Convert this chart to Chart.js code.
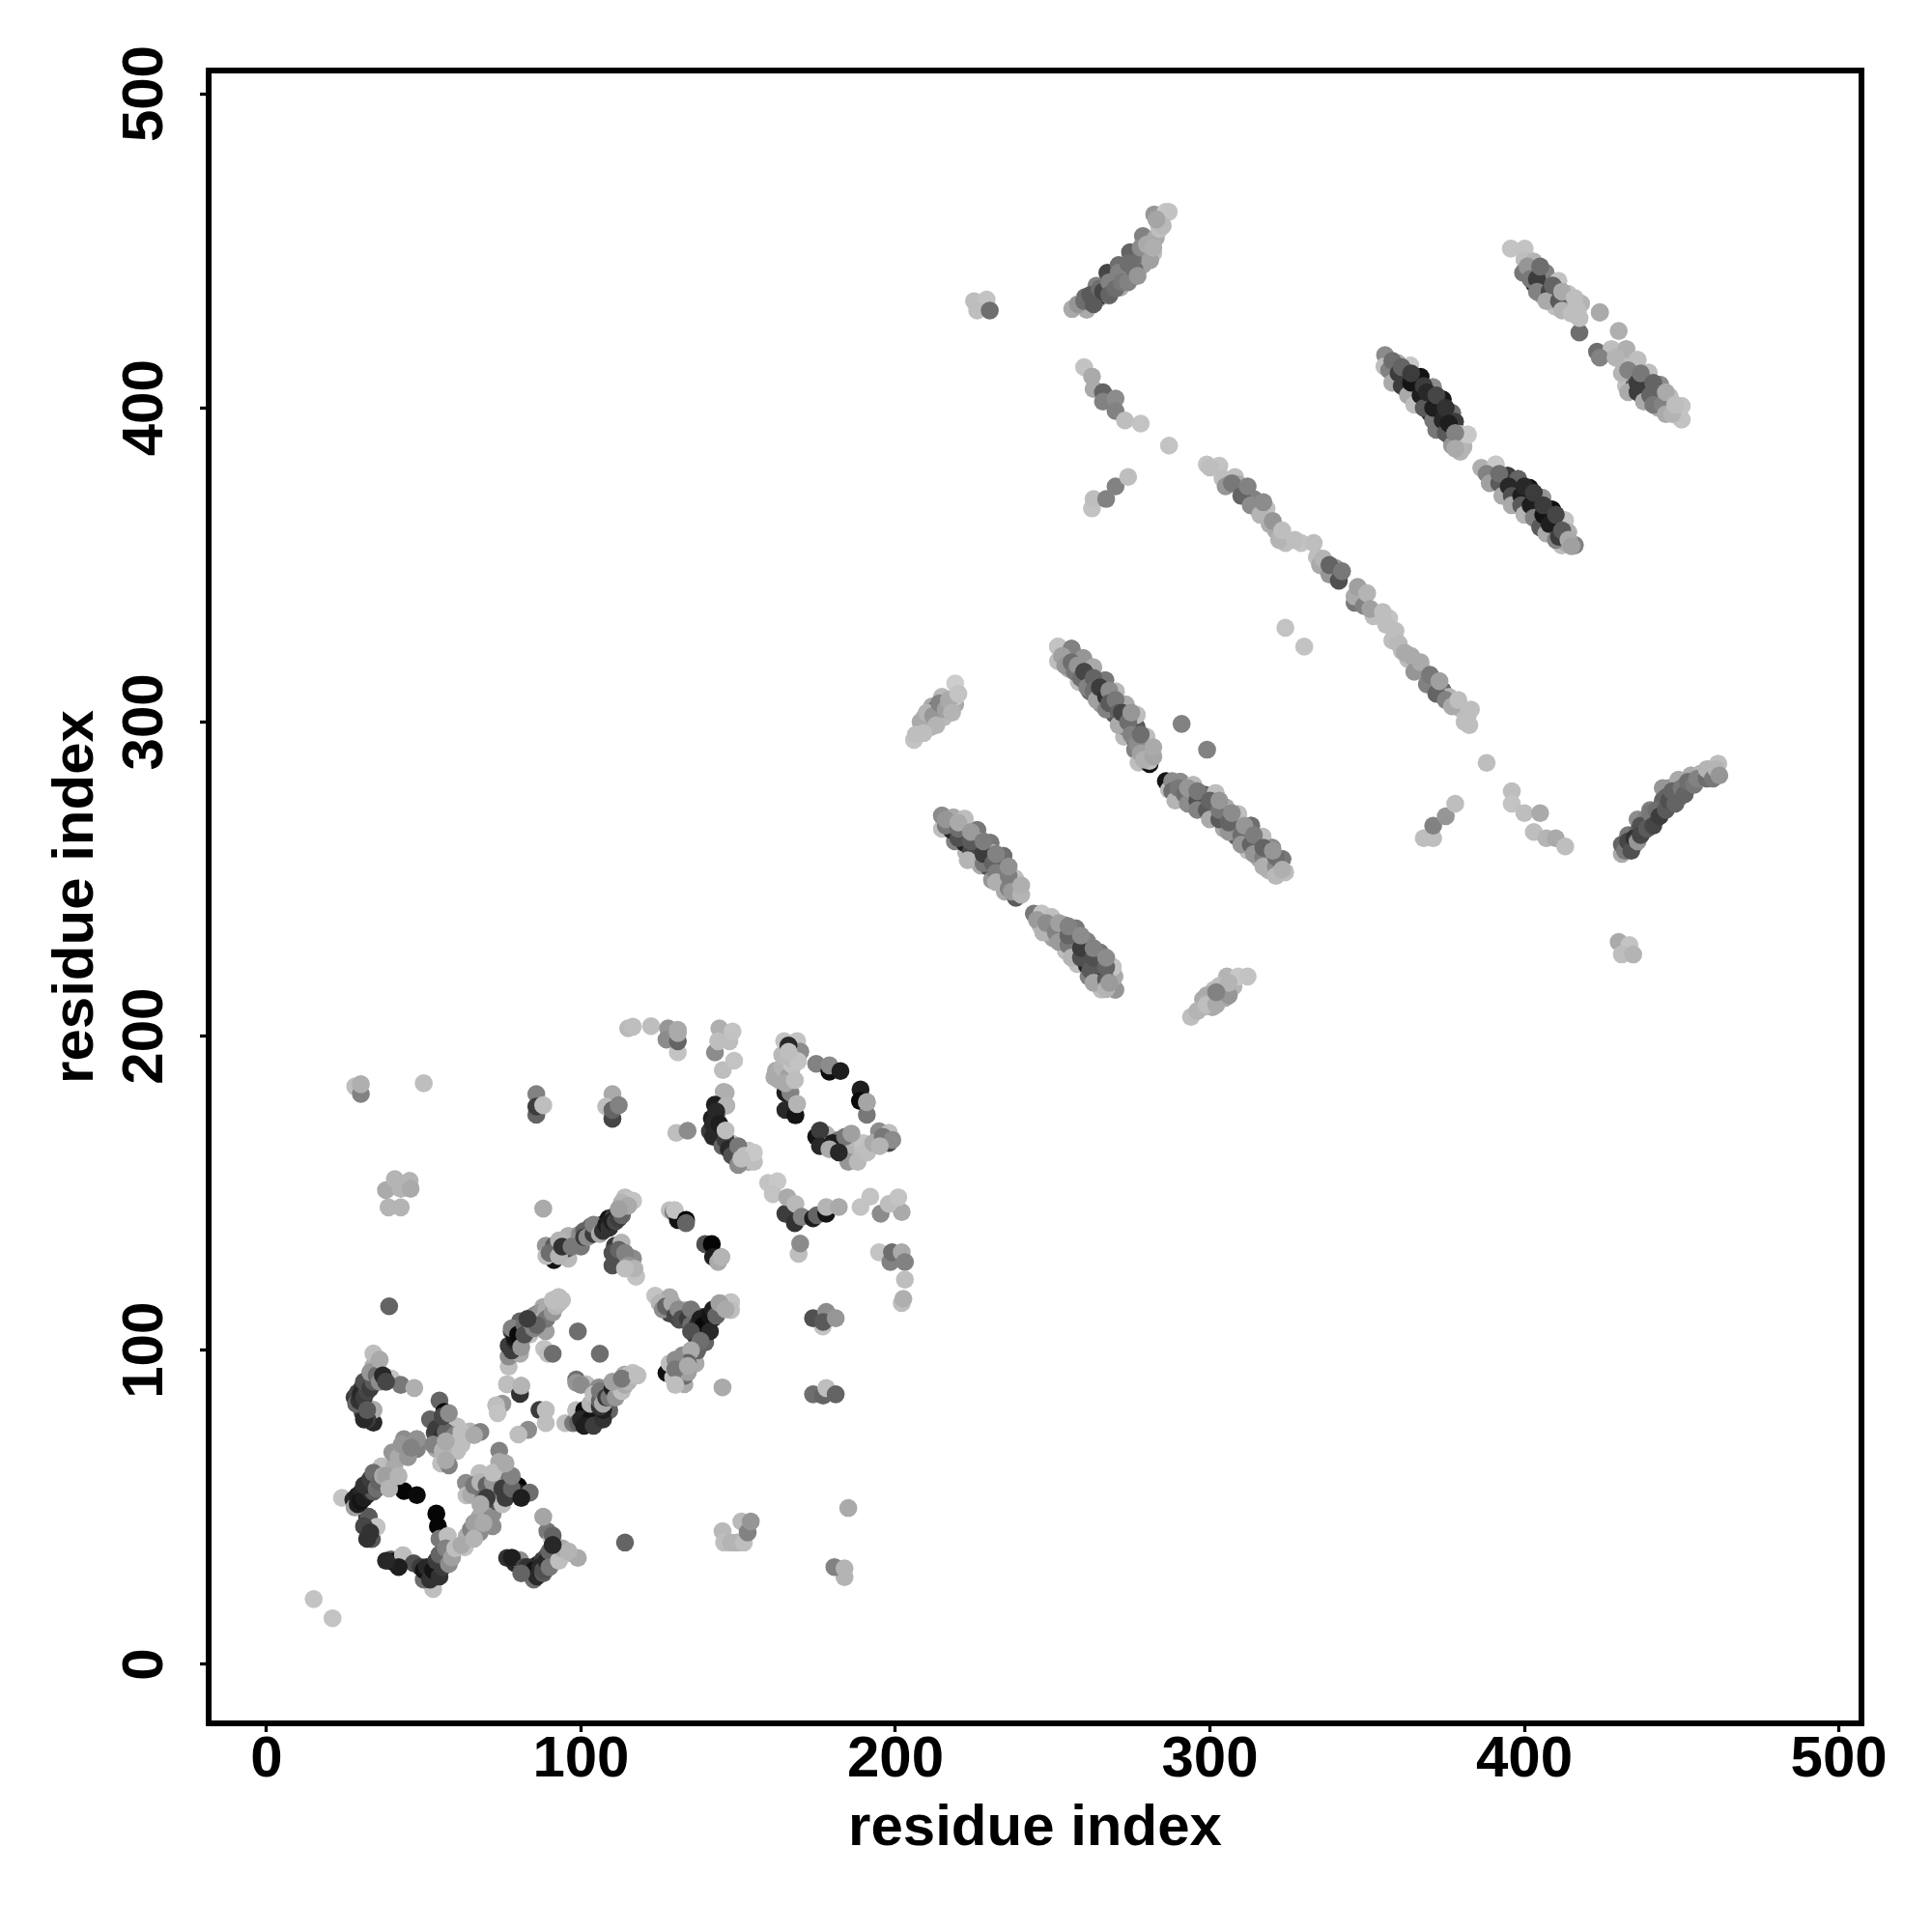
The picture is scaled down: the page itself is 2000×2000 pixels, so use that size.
<!DOCTYPE html>
<html lang="en">
<head>
    <meta charset="UTF-8">
    <title>residue contact map</title>
    <script src="https://cdn.jsdelivr.net/npm/chart.js"></script>
    <style>
        body { margin: 0; background: #fff; }
    </style>
</head>
<body>
    <canvas id="myChart" width="2000" height="2000"></canvas>
    <script>
        // every contact is [residue x, residue y, grey level]
        // back* rows get drawn first, then the plain ones, front* rows last
        const backLowA = [[28.5,83,100],[29.5,84,50],[30,86,40],[31,85,60],[32,87,70],[31,90,80],[33,88,60],[34,90,90],[33,93,150],[35,92,110],[36,90,140],[36,97,170],[37,92,40],[38,90,70],[32,78,60],[31,78,40],[32,81,90]];
        const backLowB = [[28,50,160],[29,51,30],[30,52,20],[31,53,30],[32,54,30],[33,55,40],[34,55,90],[31,57,50],[33,59,60],[34,61,110],[35,56,110],[36,58,100],[37,60,170],[38,60,160],[39,56,180],[42,66,170],[43,70,150],[45,66,150],[46,69,130],[42,60,180],[31,44,70],[32,40,50],[33,42,50]];
        const backLowC = [[49,31,60],[50,27,110],[50,30,20],[51,31,40],[52,27,50],[53,30,20],[54,33,60],[55,28,50],[56,31,60],[55,35,100],[57,37,130],[58,32,140],[59,34,160],[60,37,190],[62,38,170],[65,43,130],[66,45,160],[66,40,180],[69,45,170],[42,31,30],[38,33,40]];
        const backLowD = [[52,78,100],[54,75,60],[56,73,50],[57,74,100],[59,72,120],[60,73,130],[53,70,130],[56,68,180],[61,71,190],[62,70,190],[57,65,170],[62,74,190],[56,79,70],[58,80,140],[57,71,170],[66,73,170]];
        const backLowE = [[65,54,170],[66,57,120],[68,58,180],[69,53,110],[70,57,100],[71,52,150],[72,58,150],[73,52,80],[74,53,130],[75,56,60],[75,51,190],[76,53,60],[78,56,100],[78,60,130],[72,61,190],[70,53,60],[68,51,170],[81,53,30],[76,64,170]];
        const backLowF = [[78,34,30],[82,31,70],[83,29,60],[83,31,50],[85,27,110],[85,30,20],[86,28,40],[87,31,40],[88,29,90],[88,30,80],[89,33,40],[90,36,100],[90,31,120],[91,41,100],[93,33,190],[94,37,170],[96,36,180],[91,38,40],[81,29,100]];
        const backMidB = [[142,172,40],[143,176,40],[142,168,40],[143,170,40],[144,172,30],[145,165,100],[146,167,60],[147,164,40],[148,162,80],[150,165,120],[150,159,140],[152,162,190],[146,170,190],[155,160,190],[155,163,200],[151,161,190]];
        const backMidC = [[162,189,170],[163,186,170],[164,190,180],[166,187,160],[167,191,195],[165,185,170],[168,186,190],[167,193,185],[169,192,195],[164,194,185],[166,197,40],[166,195,190]];
        const backMidD = [[176,170,60],[176,165,40],[180,166,30],[179,164,170],[184,163,180],[184,168,120],[186,169,160],[185,160,150],[188,160,185],[191,163,190],[193,166,170],[196,168,120],[199,167,140],[195,165,180],[182,163,40]];
        const backMidG = [[89,130,190],[90,131,110],[93,130,180],[93,135,180],[94,133,50],[97,133,120],[100,133,120],[101,138,100],[101,136,60],[102,136,140],[104,137,60],[104,140,130],[106,137,170],[107,138,50],[108,140,30],[109,139,50],[110,141,30],[111,141,70],[112,142,60],[113,143,100],[113,147,180],[115,146,170],[112,145,160]];
        const backMidH = [[110,131,80],[110,127,80],[112,132,100],[114,131,130],[115,127,150],[117,126,180],[114,126,190]];
        const backMidI = [[125,115,180],[126,113,140],[127,114,100],[129,115,170],[130,111,70],[131,113,140],[132,110,80],[134,110,60],[135,113,120],[135,108,110],[137,108,50],[138,110,30],[138,106,30],[139,108,10],[141,111,20],[141,106,40],[142,113,30],[143,111,100],[144,115,160],[146,113,170],[135,106,80],[137,102,60],[137,100,100],[138,103,110],[135,100,170],[134,96,100],[134,93,160],[130,97,140],[130,94,120],[130,89,190],[134,95,170]];
        const backMidJ = [[78,100,60],[79,103,40],[79,104,20],[78,107,130],[80,105,10],[81,101,150],[82,108,110],[82,105,80],[84,109,170],[85,107,130],[85,111,140],[87,112,150],[88,110,170],[89,113,170],[89,110,120],[91,112,150],[92,114,180],[93,115,185],[94,116,190],[91,116,190],[86,108,100],[83,110,60]];
        const backMidK = [[100,89,140],[104,86,190],[106,84,100],[106,87,120],[107,83,170],[108,85,60],[109,85,120],[110,88,30],[111,85,150],[112,90,60],[112,88,160],[113,87,190],[114,89,170],[115,90,180],[115,92,190],[110,90,160],[113,91,120],[118,92,190]];
        const backMidL = [[99,77,100],[100,78,40],[103,78,20],[101,76,30],[104,76,60],[107,78,50],[107,81,30],[103,83,180],[105,84,170],[106,82,50]];
        const backUpA = [[208,300,170],[210,303,180],[212,302,150],[213,299,180],[214,306,130],[216,304,160],[217,307,170],[218,303,180],[220,309,195],[206.5,296,190],[209,296.5,190]];
        const backUpB = [[253,321,160],[254,318,150],[256,319,110],[257,316,120],[258,318,150],[259,314,110],[260,316,70],[261,311,130],[263,314,100],[263,310,110],[264,307,160],[265,311,60],[267,308,50],[267,304,130],[268,310,140],[268,306,90],[270,307,120],[271,303,100],[271,299,170],[272,303,70],[274,300,110],[275,296,130],[275,303,150],[277,293,140],[278,290,160],[278,296,110],[279,288,175],[282,289,165],[282,292,170]];
        const backUpC = [[288,278,110],[289,275,180],[290,279,120],[292,277,110],[293,274,140],[293,279,150],[296,275,80],[296,272,130],[296,278,120],[299,272,90],[300,275,100],[300,269,170],[303,269,90],[303,272,120],[303,275,150],[306,265,150],[306,268,100],[307,271,140],[310,264,110],[310,261,150],[311,267,150],[313,261,100],[314,258,150],[314,264,125],[317,257,125],[317,260,100],[317,254,175],[321,254,140],[321,257,110],[321,251,185],[320,259,150],[323,253,175]];
        const backUpD = [[216,267,120],[216,269,150],[220,263,80],[220,266,110],[220,268,170],[224,259,70],[224,262,90],[224,265,155],[223,256,180],[228,255,120],[228,258,60],[228,262,125],[231,255,100],[232,252,125],[232,258,130],[232,249,175],[236,247,130],[236,251,125],[236,254,145],[237,246,155],[240,245,180],[240,248,175]];
        const backUpE = [[245,237,155],[247,233,180],[248,236,140],[251,233,130],[252,230,155],[252,236,160],[255,229,120],[255,232,100],[255,235,130],[256,225,180],[259,225,80],[259,228,60],[259,232,140],[262,221,90],[263,225,80],[263,228,130],[263,217,165],[267,218,90],[267,222,100],[267,225,140],[267,215,180],[268,217,155]];
        const backUpF = [[296,208,180],[299,213,170],[299,210,190],[302,210,170],[303,216,190],[306,213,150],[306,217,180],[302,214,130]];
        const backUpG = [[258,433,150],[260,434,110],[262,436,90],[263,433,90],[265,438,110],[266,437,70],[268,440,130],[268,436,100],[270,438,110],[271,443,130],[272,440,120],[274,446,110],[274,440,130],[276,444,110],[278,451,140],[277,442,150],[280,452,170],[281,447,160],[282,451,175],[284,457,190],[285,458,185],[283,460,165]];
        const backUpI = [[300,381,190],[305,375,150],[307,376,120],[310,372,100],[312,375,130],[313,369,140],[316,366,180],[317,370,140],[320,364,150],[322,358,180],[323,361,190],[327,358,190],[335,350,170],[336,352,180],[338,347,150],[338,350,100],[341,345,80],[342,348,120],[347,343,160],[349,337,130],[350,341,180],[351,336,160],[355,335,190],[356,331,190],[359,329,190],[360,325,185],[362,322,170],[364,321,170],[365,316,150],[367,319,170],[369,312,130],[370,315,120],[372,309,100],[373,313,160],[375,307,130],[377,305,170],[379,307,190],[381,300,190],[383,304,190]];
        const backUpK = [[432,259,120],[433,262,70],[434,259,80],[435,263,50],[436,262,150],[437,267,80],[437,264,70],[439,266,90],[440,271,120],[441,267,70],[442,272,110],[443,270,60],[445,276,100],[445,272,90],[446,275,80],[447,278,100],[448,274,100],[450,279,120],[451,277,100],[452,281,110],[454,280,120],[455,282,130],[458,282,110],[458,285,180],[460,282,120],[461,285,180],[462,283,150]];
        const backUpL = [[357,412,130],[358,415,110],[358,408,170],[360,411,60],[361,407,60],[361,413,100],[363,404,170],[364,408,20],[364,411,60],[365,401,190],[367,404,30],[368,407,60],[368,400,90],[369,405,40],[371,396,120],[371,400,30],[372,404,70],[372,393,120],[374,396,40],[375,400,50],[375,392,90],[376,395,30],[377,388,150],[378,392,130],[378,387,170]];
        const backUpM = [[388,379,130],[389,376,160],[392,376,90],[392,379,110],[393,372,170],[395,375,40],[396,372,80],[396,369,170],[399,372,30],[400,375,40],[399,369,90],[400,366,180],[402,369,30],[403,373,60],[403,365,130],[405,362,90],[406,366,20],[406,369,60],[407,360,170],[408,363,30],[410,358,130],[410,366,70],[411,359,60],[412,361,90],[414,358,170],[415,356,160]];
        const backUpN = [[401,445,150],[402,441,120],[404,441,60],[405,445,110],[404,437,130],[408,437,70],[407,434,170],[409,439,100],[411,434,90],[412,431,180],[412,437,170],[415,430,190],[416,435,190],[417,431,190]];
        const backUpO = [[424,416,130],[429,416,180],[431,411,180],[433,412,130],[433,405,170],[436,408,60],[436,405,60],[437,411,120],[438,402,170],[440,404,100],[441,408,100],[441,401,120],[444,401,130],[445,405,170],[445,398,170],[447,398,180],[448,401,190]];

        const lowA = [[15,20.8,195],[21,14.7,195],[39,114,100],[34,99,190],[35,95,175],[28,85,60],[29,86.5,70],[30.4,88,50],[31.5,89.6,80],[33,91,100],[39.6,91,195],[42.7,89,120],[47,88,175],[30.6,80,60],[34,77,40],[34,81,170]];
        const lowB = [[24,53,195],[27.6,52.4,40],[28.9,53.7,30],[30.4,55.2,40],[32,56.3,60],[33.5,57.3,90],[35,58.8,170],[36.6,63,190],[40.7,57.3,185],[40.7,63.4,170],[40,67.5,150],[47.8,68.6,130],[44.2,68,170],[43.7,71.7,140],[47.8,71.7,145],[43.7,55.2,5],[47.8,53.9,10],[32,47,50],[32.5,47,90],[32.5,43,20],[33.5,39.9,90],[35,43.8,195]];
        const lowC = [[39.6,33.4,100],[40,32.7,20],[43.4,34.7,190],[46.8,32.2,80],[53,24,190],[51,28,195],[52,29.6,30],[53,28.6,70],[54,31.1,40],[55.5,32.7,70],[57,34.2,120],[54,48,5],[54.5,44,5],[55,40,120],[57.6,40.9,190],[59,36.3,180],[63,37.3,195],[63.7,40.9,175],[67.8,42,140],[67.8,47,170],[71.9,44,140],[71.9,48,140]];
        const lowD = [[55,84,100],[56.5,80.4,10],[53.5,73.7,70],[55,71.7,60],[58,76.8,100],[60.6,75.7,190],[64.7,74.2,180],[68,74,130],[54,68.6,170],[58,69,190],[60.6,68,190],[55.5,64,190],[58,63.4,130]];
        const lowE = [[74,68,130],[74,64.5,170],[67.8,60.9,190],[63.4,57.8,140],[63.6,53.8,190],[67.8,56.3,195],[67.8,53.2,185],[70.9,55.2,80],[72.4,54.2,60],[73,53.7,150],[74,56.3,100],[75,60.4,190],[77,58.8,120],[80,56.8,5],[80,54.7,30],[83.7,54.7,110]];
        const lowF = [[76.5,33.9,50],[79,32.2,40],[80.6,33.2,140],[84,29.6,50],[85,28.6,80],[86.2,31.7,30],[87.8,33.2,60],[89.3,34.7,80],[89.3,42.4,120],[88,47,165],[90.8,39.9,195],[91.9,36.8,170],[95,35.2,180],[99,33.9,170],[114,38.8,100]];
        const lowG = [[145,42.4,185],[145.5,38.8,190],[147.7,38.8,180],[149.7,38.8,180],[151.8,38.8,190],[151,45.5,185],[153,42,130],[154,45.5,150],[183.8,27.8,180],[180.6,31,130],[183.8,30.6,180],[185,49.8,170]];

        const midA = [[115,202.5,185],[116.5,203,190],[122.3,203.2,190],[127.7,202.5,150],[127.2,198.9,140],[130.8,202,170],[130.8,194.8,195],[130.8,198.4,100],[130.8,201,170],[144,202.5,175],[142.6,194.8,140],[143.6,198.4,190],[147.2,198.4,190],[148.2,201.5,195],[145.1,189.2,190],[148.7,192.2,195]];
        const midB = [[145.4,182.3,175],[142.6,178.2,30],[146.2,177.9,180],[143,174.8,90],[141.6,173.8,30],[141,169.7,60],[144,167.5,60],[144.6,169.2,190],[130.3,169.2,190],[133.9,169.9,140],[147.7,166,190],[149.2,162.5,195],[153.3,160,170],[153.3,163.5,195]];
        const midC = [[161.5,187,170],[165,188,190],[167,189.7,190],[165,182,30],[166.6,182,130],[165,176.5,40],[168.2,174.8,20],[168.7,178.4,180],[164.6,198.4,195],[168.7,198.4,195],[169.7,195.1,140],[165.5,192,190],[174.8,191.2,130],[179,188.7,15],[179,190.7,140],[182.5,188.9,30],[188.9,183,30],[188.7,179.4,10],[190.9,175,120],[190.9,179,165]];
        const midD = [[174.8,168,20],[178.4,167,20],[178,168.7,180],[181.5,164.6,40],[182,167,120],[186.6,162,170],[187,165,185],[189.7,166,195],[192,165,190],[189,162.5,190],[194.8,169.7,140],[197.9,166,70],[197.9,169.2,190]];
        const midE = [[159.5,153.3,195],[162.5,153.8,200],[161,149.7,195],[165,143.5,60],[165.6,148.7,170],[168,140.5,50],[168.2,146.6,185],[170.2,142.5,130],[173.8,142,30],[175,143,100],[178,143.5,20],[178,145.6,180],[182,145.6,170],[188.9,145.6,195],[192,148.9,195],[195.3,143.5,140],[202,144,170],[197.9,146.6,190],[200.9,148.7,195]];
        const midF = [[169.2,130.7,190],[169.7,134,140],[194.8,131.2,195],[198.4,128.1,130],[198.9,131.2,110],[202,131.2,170],[203,128.1,130],[203,122.5,190],[202,115,190],[202.5,116.4,175],[176.9,107.6,195],[173.8,110.2,80],[178,112.2,140],[177,109,90],[181,110.2,150],[173.8,86,110],[177,85.6,100],[178,88,190],[181,86,100],[145,88.2,170]];
        const midG = [[88,145.1,170],[88.8,133.3,150],[91.4,128.7,20],[91.4,133.3,90],[93,132,100],[96,129.2,185],[95.5,132.3,80],[96,136.4,175],[98.5,133.8,150],[99.6,136.9,140],[103.1,139.4,110],[105.7,139.4,20],[106.7,140,60],[108.8,142,20],[110.3,142.5,60],[111.8,143.5,40],[112.9,144.6,140],[114,148.7,190],[115,147.6,195],[116.5,147.6,195]];
        const midH = [[110.8,133.3,60],[111.9,129.2,90],[112.9,134.3,180],[113.9,129.2,170],[116.5,129.2,140],[117.5,123.5,195],[128.2,144.6,190],[129.4,144,120],[130.8,141.5,20],[129.8,144.6,195],[133.4,141.5,3],[133.4,140.5,100],[139.5,133.8,80],[141.6,133.8,5],[142,129.7,30],[143.6,128.1,170],[144.6,129.7,180]];
        const midI = [[123.6,117.4,195],[128.2,111.7,70],[129.5,112.8,140],[128.2,116.9,170],[131.3,109.7,80],[133.4,112.8,170],[136.4,111.2,120],[139.5,110.7,30],[140.5,108.7,20],[142,110.2,40],[139.5,106.6,50],[136.4,104.6,30],[143.6,112.8,150],[145.1,114.8,190],[147.7,115.3,195],[147.7,112.8,190],[139.5,102.5,100],[136.4,98.9,160],[136.4,95.8,170],[132.3,98.4,140],[132.3,95.3,70],[127.2,92.8,15],[128.2,95.8,190],[129.3,91.3,190],[132.9,89.2,170],[132.9,91.8,110]];
        const midJ = [[77,94.8,190],[77,98,140],[80.6,98.9,170],[77,101.5,60],[78,106,60],[81,103.5,15],[80.6,109.2,100],[83.7,105,190],[87.3,109.2,180],[86.3,111.7,80],[88,113.8,170],[90.9,114.8,185],[92.9,116.9,190],[88.8,106,160],[88.3,100.5,195],[89.5,98.9,190],[91,98.9,110],[99,106,110],[106,98.9,110]];
        const midK = [[98.5,90.7,110],[98.5,89.7,150],[101.6,89.2,190],[105.7,88.2,140],[107.8,86.1,50],[109,87.5,40],[109.8,87,60],[111.8,89,100],[110.8,87.5,160],[113.9,92.2,170],[116.5,92.8,195],[76.5,89.2,190],[80.6,86.1,50],[81,88.7,180],[75,83,150],[73,82.5,190],[73.5,80,195]];
        const midL = [[86.8,81,60],[88.8,81,190],[88.8,76.8,190],[83.2,74.7,140],[80.1,73.2,190],[95,76.8,190],[97.5,76.8,120],[98.5,80.9,190],[102,76.8,50],[101,80.9,15],[105,77.8,50],[105,80.9,15],[109,80.9,100]];
        const midM = [[28.2,184,190],[30,181.6,130],[30,184.7,175],[50,185,190],[38,151,170],[40.8,154.5,180],[38.8,145.5,180],[42.7,145.5,180],[42.7,151.4,180],[45.5,154,180],[45.8,151.4,170],[85.8,181.6,130],[85.8,175,100],[85.8,177.6,60],[88,178,190],[110,181.6,170],[108,177.6,190],[110,173.7,70],[110,176.5,100],[112,178,130]];

        const upA = [[205.9,294.3,195],[209.2,301.5,170],[209.2,298.9,185],[211.2,298.4,170],[211.7,305,170],[213.3,304.6,100],[215.3,301.5,185],[214.8,308,185],[219,305.6,170],[219,308,200],[219,312.3,205]];
        const upB = [[251.7,319.4,190],[251.7,324,195],[255.2,316.9,170],[254.7,320,100],[256,323.3,130],[258.3,312.8,190],[258.3,315.8,30],[259.7,320.3,150],[261.9,309.7,110],[261.9,312.8,30],[262.9,317.4,170],[265.5,305.6,150],[265.5,309.2,20],[266.7,313.3,120],[269.6,302.5,90],[269.6,305.6,30],[270.1,309.7,185],[272.7,295.3,185],[273.2,301.5,100],[273.2,298.4,120],[273.2,305.6,170],[276.2,294.3,110],[276.7,298.4,90],[276.7,302.3,190],[276.2,291.2,130],[277.3,287.1,190],[279.8,295.3,190],[280.8,286.6,20],[280.8,287.6,190],[280.8,290.7,150],[291,299.4,130],[299.1,291.2,130]];
        const upC = [[286,281.2,20],[287,278.4,190],[288,281.2,140],[290.6,277.4,110],[290.6,281,140],[294.7,273.8,170],[294.2,276.4,100],[294.7,280,185],[297.7,273.3,60],[298.3,276.9,100],[301.3,270.7,100],[301.8,277.4,190],[304.4,266.1,170],[305,269.7,30],[305,272.8,170],[308.5,263.5,100],[308,266,40],[309,270.7,190],[312.1,259,190],[311.6,262.5,30],[313.1,267,110],[315.7,256.4,170],[315.2,259,30],[316.7,263.5,190],[318.7,252.8,180],[319.2,255.3,100],[319.8,260,140],[323,256.4,120],[323.9,252.2,190]];
        const upD = [[214.8,266,190],[214.8,270.2,140],[218.4,269.7,170],[218.9,262,130],[217.9,265.6,40],[222.5,258.4,180],[222,261.5,30],[222,269.2,190],[227.1,254.3,170],[226,258.4,30],[226,265.6,120],[226.6,262,190],[229.6,253.8,80],[230.7,249.7,150],[230.2,261.5,120],[230.7,258.4,180],[234.8,246,170],[234.3,249.7,100],[234.8,254.3,130],[234.3,257.4,110],[238.3,244,90],[238,250.2,190],[238.9,247.1,180]];
        const upE = [[244,239,120],[246,235.3,190],[246.5,239,195],[250.1,231.2,160],[249.6,234.3,120],[249.6,237.9,190],[253.7,231.2,80],[253.7,235.3,130],[254.2,227.1,190],[257.3,227.1,30],[257.3,234.3,120],[257.8,223,190],[257.8,231.2,190],[260.9,222.5,30],[261.4,219,130],[260.9,230.2,130],[261.4,227.1,190],[265,219,30],[265.5,214.8,190],[265,226.6,120],[265.5,223,190],[269.9,214.8,150],[269.6,219,170],[269.1,222,195]];
        const upF = [[294,206.1,190],[297.8,209.2,180],[297.8,211.7,170],[300.8,209.2,170],[303,212,100],[301.3,214.8,190],[304.9,212.2,170],[305.4,219,180],[307.5,215.8,180],[309,219,200],[312,219,195]];
        const upG = [[256.2,431.5,170],[260.3,435.3,110],[260.8,431.2,170],[263.9,438.9,130],[264.4,434.8,140],[266,436,30],[267.4,443,70],[268,435.8,150],[269,438.3,180],[271,445.5,110],[271.5,438.3,170],[274.6,449.6,100],[274.6,443,120],[278.7,445.5,160],[278.2,449.1,110],[278.7,454.7,130],[282.3,461.6,150],[282,449.3,190],[282.8,454.2,170],[283.8,457.8,200],[285.9,462.4,200],[286.9,462.4,195]];
        const upH = [[225,434,190],[229,434.5,195],[226,431,190],[230,431,110],[260,413,195],[262.5,410,170],[263,406,170],[266,405,100],[266,402,130],[270,403,140],[270,399,130],[273,396,190],[278,395,195],[287,388,195],[262.5,368,195],[263,371,190],[267,371,130],[270,375,130],[274,378,190]];
        const upI = [[299,382,195],[303,381.6,195],[304,377.6,190],[308,378,190],[306,375.7,170],[309,375.7,170],[311,373,120],[314,371,130],[315,368,170],[318,368,190],[319,363,175],[321,361,170],[324,357,190],[329,357,195],[333,357,190],[334,352.5,190],[337,349,170],[340,347,130],[340,349,150],[346,338,120],[346,340,170],[348,339.6,170],[352,333.7,190],[357,333,195]];
        const upJ = [[358,326,190],[361,322.7,190],[363,320,190],[366,318,170],[368,316,190],[371,312,150],[374,310,100],[376,308,180],[378,306,190],[380,304,190],[382,302,190],[382.5,299,190],[324,330,195],[330,324,195],[388,287,190],[396,278,190],[396,274,195],[400,271,190],[405,271,170],[403,265,190],[407,263,180],[410,263,170],[413,260.4,190],[368,263,190],[371,263,190],[371,267,130],[375,270,150],[378,274,190]];
        const upK = [[431,258,170],[431,261,100],[435,261,130],[436,265,100],[438.5,269,130],[441.6,269,100],[444,275,100],[446,279,150],[449,275.7,110],[449,281.6,170],[453,283,170],[456,283.5,180],[460,283.5,130],[459,285,190],[461.6,286.7,190],[430,230,170],[433.4,229,195],[431,226,190],[434.6,226,180]];
        const upL = [[355.7,416.8,140],[355.5,413.2,190],[359.6,414.3,170],[359.1,410.2,40],[362.7,405.6,60],[362.2,409.1,30],[363.7,413.5,200],[367,409.9,20],[365.8,406,10],[366.3,402.5,190],[369.9,398.4,50],[369.4,402,190],[370.9,406.6,140],[373,394.3,30],[373,398.4,10],[374,402.7,25],[376.5,390.7,90],[377,398.4,110],[377.9,395.6,60],[379.6,386,180],[380.6,387.6,180],[379.6,391.7,190],[382,391.5,200]];
        const upM = [[386.3,380.9,175],[390.4,377.4,130],[390.9,382,200],[393.4,374.3,70],[394.7,378.4,60],[397.5,370.7,60],[398,373.8,10],[398,377.4,100],[401.1,367.1,170],[401.6,374.5,20],[402.1,371.2,190],[404.7,364,40],[405.7,371.4,150],[405,367,190],[409.3,360.4,50],[408.8,367.6,15],[411.9,356.3,190],[412.9,364.2,195],[413.9,360.4,175],[413.5,356.8,170],[416,356.3,130]];
        const upN = [[395.7,450.7,195],[400.1,450.7,195],[400.1,447.1,190],[402.9,446.6,180],[399.6,443,120],[403.2,439.4,40],[403.2,443,100],[406.7,439.4,70],[406.7,443,130],[405.7,435.8,170],[409.3,435.8,80],[410.8,440.4,195],[409.8,432.2,190],[413.9,432.7,195],[413.9,436.3,195],[417.5,424,110],[417.5,428.6,190],[418,433.2,180],[424,430.4,170],[430,424.5,175]];
        const upO = [[423.1,417.9,110],[427.7,418.7,190],[431.3,414.3,190],[432.4,418.7,175],[432.3,407,190],[434.9,407,90],[434.9,410.2,100],[436,415.3,190],[439,403.5,60],[439,406.6,80],[439.5,411.2,190],[442.6,400,170],[442.1,403,130],[443.1,407.4,140],[446.7,400.4,190],[446.2,403.5,190],[450,396.3,195],[450,400.6,195]];

        const frontLow = [[36.6,63,190],[40.7,57.3,185],[35,43.8,195],[43.4,34.7,190],[59,36.3,185],[63,37.3,195],[57.6,40.9,190],[90.8,39.9,195],[91.9,36.8,175],[95,35.2,180],[60.6,75.7,190],[58,69,190],[60.6,68,190],[67.8,60.9,190],[67.8,56.3,195],[75,60.4,190],[47.8,71.7,145],[44.2,68,170],[34,95,175],[34,81,170],[39.6,91,195]];
        const frontMid = [[146,182,175],[146.2,177.9,180],[149.2,162.5,195],[153.3,163.5,195],[153.3,160,170],[168.7,178.4,180],[169.7,195.1,140],[168.7,198.4,195],[190.9,179,165],[197.9,169.2,190],[192,165,190],[115,147.6,195],[116.5,147.6,195],[117.5,123.5,195],[116.5,129.2,140],[96,136.4,175],[144.6,129.7,180],[129.8,144.6,195],[147.7,115.3,195],[145.1,114.8,190],[128.2,95.8,190],[136.4,95.8,170],[92.9,116.9,190],[90.9,114.8,185],[116.5,92.8,195],[113.9,92.2,170],[88.8,81,190],[98.5,80.9,190],[76.5,89.2,190],[81,88.7,180],[101.6,89.2,190]];
        const frontUpB = [[251.7,324,195],[256,323.3,130],[259.7,320.3,150],[262.9,317.4,190],[266.7,313.3,120],[270.1,309.7,190],[273.2,305.6,170],[276.7,302.3,195],[279.8,295.3,195],[280.8,290.7,150]];
        const frontUpC = [[290.6,281,145],[294.7,280,190],[301.8,277.4,195],[305,272.8,165],[309,270.7,195],[313.1,267,110],[316.7,263.5,195],[319.8,260,150],[323,256.4,120],[323.9,252.2,195]];
        const frontUpD = [[214.8,270.2,145],[222,269.2,195],[226,265.6,120],[226.6,262,195],[230.2,261.5,120],[230.7,258.4,185],[234.3,257.4,115],[234.8,254.3,130],[238,250.2,195],[238.9,247.1,190]];
        const frontUpE = [[246.5,239,195],[249.6,237.9,195],[253.7,235.3,130],[257.3,234.3,120],[257.8,231.2,195],[260.9,230.2,130],[261.4,227.1,195],[265,226.6,125],[265.5,223,195],[269.1,222,195],[269.6,219,170],[269.9,214.8,150]];
        const frontUpK = [[433,264,120],[436,269,140],[440,272,130],[444,279,150],[449,281.6,170],[453,283,170],[456,283.5,180],[459,285,190],[461.6,286.7,190]];
        const frontUpL = [[359.6,414.3,170],[363.7,413.5,200],[366.3,402.5,190],[370.9,406.6,140],[369.4,402,190],[374,402.7,25],[377,398.4,110],[377.9,395.6,60],[379.6,391.7,190],[382,391.5,200],[380.6,387.6,180]];
        const frontUpM = [[390.9,382,200],[394.7,378.4,60],[398,377.4,100],[401.6,374.5,20],[402.1,371.2,190],[405.7,371.4,150],[408.8,367.6,15],[412.9,364.2,195],[413.9,360.4,175],[411.9,356.3,190],[416,356.3,130]];
        const frontUpN = [[400.1,447.1,190],[402.9,446.6,180],[406.7,443,130],[410.8,440.4,195],[413.9,436.3,195],[418,433.2,180],[417.5,428.6,190],[424,430.4,170]];
        const frontUpO = [[427.7,418.7,190],[432.4,418.7,175],[436,415.3,190],[439.5,411.2,190],[443.1,407.4,140],[446.7,400.4,190],[446.2,403.5,190],[450,400.6,195],[450,396.3,195]];

        const clusters = [
            backLowA, backLowB, backLowC, backLowD, backLowE, backLowF, backMidB, backMidC, backMidD, backMidG, backMidH, backMidI, backMidJ, backMidK, backMidL,
            backUpA, backUpB, backUpC, backUpD, backUpE, backUpF, backUpG, backUpI, backUpK, backUpL, backUpM, backUpN, backUpO,
            lowA, lowB, lowC, lowD, lowE, lowF, lowG, midA, midB, midC, midD, midE, midF, midG, midH, midI, midJ, midK, midL, midM,
            upA, upB, upC, upD, upE, upF, upG, upH, upI, upJ, upK, upL, upM, upN, upO,
            frontLow, frontMid, frontUpB, frontUpC, frontUpD, frontUpE, frontUpK, frontUpL, frontUpM, frontUpN, frontUpO
        ];
        const tickValues = [0, 100, 200, 300, 400, 500];
        const axisTitle = 'residue index';

        const axisFont = { family: '"Liberation Sans", Arial, sans-serif', size: 60, weight: 'bold' };

        // box round the plot, R style
        const frame = {
            id: 'frame',
            afterDatasetsDraw(chart) {
                const { ctx, chartArea: a } = chart;
                ctx.save();
                ctx.strokeStyle = '#000';
                ctx.lineWidth = 6;
                ctx.strokeRect(a.left, a.top, a.right - a.left, a.bottom - a.top);
                ctx.restore();
            }
        };

        function axisOptions(min, max, extra) {
            return Object.assign({
                type: 'linear',
                min: min,
                max: max,
                afterBuildTicks(axis) {
                    axis.ticks = tickValues.map(v => ({ value: v }));
                },
                border: { display: false },
                grid: { drawOnChartArea: false, drawTicks: true, tickLength: 9, tickWidth: 3.3, tickColor: '#000' }
            }, extra);
        }

        const ctx = document.getElementById('myChart').getContext('2d');
        new Chart(ctx, {
            type: 'scatter',
            data: {
                datasets: clusters.map(points => ({
                    data: points.map(p => ({ x: p[0], y: p[1] })),
                    backgroundColor: points.map(p => `rgb(${p[2]},${p[2]},${p[2]})`),
                    borderWidth: 0,
                    pointRadius: 9.3
                }))
            },
            options: {
                responsive: false,
                animation: false,
                layout: { padding: { top: 73, right: 73 } },
                plugins: { legend: { display: false }, tooltip: { enabled: false } },
                scales: {
                    x: axisOptions(-18.4, 507.2, {
                        afterFit(axis) { axis.height = 216; },
                        ticks: { color: '#000', font: axisFont, padding: -7, maxRotation: 0, autoSkip: false },
                        title: { display: true, text: axisTitle, color: '#000', font: axisFont, padding: { top: 0, bottom: 71 } }
                    }),
                    y: axisOptions(-18.76, 507.4, {
                        afterFit(axis) { axis.width = 216; },
                        ticks: { color: '#000', font: axisFont, padding: 5.5, minRotation: 90, maxRotation: 90, crossAlign: 'center', autoSkip: false },
                        title: { display: true, text: axisTitle, color: '#000', font: axisFont, padding: { top: 43, bottom: 0 } }
                    })
                }
            },
            plugins: [frame]
        });
    </script>
</body>
</html>
